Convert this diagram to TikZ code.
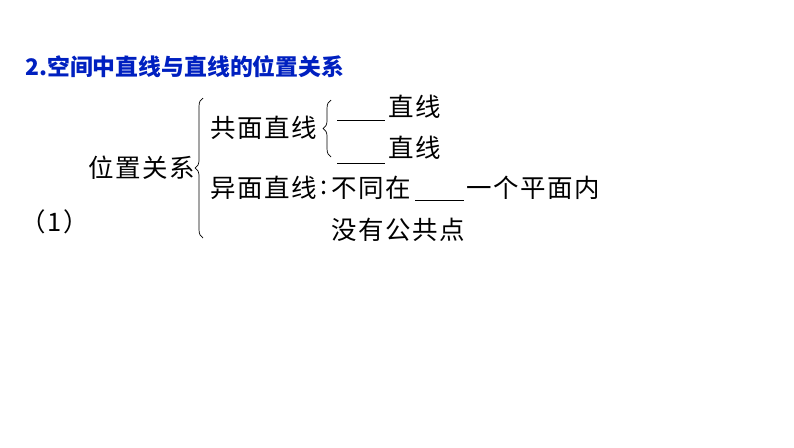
\documentclass[tikz,border=0pt]{standalone}
\usepackage{fontspec}
\setmainfont{Liberation Serif}
\newfontfamily\cjk[LetterSpace=6]{Noto Sans CJK SC}
\newfontfamily\cjktitle{Noto Sans CJK SC}
\usetikzlibrary{decorations.pathreplacing, positioning}
\definecolor{titleblue}{RGB}{0,32,192}
\tikzset{
    %Define style for the heading
    ttl/.style={
           inner sep=0pt,
           anchor=west,
           text=titleblue,
           font=\fontsize{13}{15}\selectfont\cjktitle\bfseries},
    %Define style for the chart text
    txt/.style={
           inner sep=0pt,
           anchor=west,
           font=\fontsize{14.5}{17}\selectfont\cjk},
    % Define brace style
    brc/.style={
           decorate,
           decoration={brace, amplitude=4.5pt},
           thin},
    % Define blank style
    blank/.style={
           thin}
}
\begin{document}
\begin{tikzpicture}[x=0.02cm, y=-0.02cm]

\useasboundingbox (0,0) rectangle (794,447);

\node[ttl] (title) at (25,67) {2.空间中直线与直线的位置关系};

\node[txt] (Pos) at (88,168) {位置关系};
\node[txt] (Num) at (20,222) {（1）};
\node[txt] (Cop) at (210,128) {共面直线};
\node[txt] (Ske) at (210,188) {异面直线};
\node[txt] (Col) at (320,188) {:};
\node[txt] (Nsa) at (331,188) {不同在};
\node[txt] (One) at (466,188) {一个平面内};
\node[txt] (Nco) at (331,230) {没有公共点};
\node[txt] (Ln1) at (388,107) {直线};
\node[txt] (Ln2) at (388,148) {直线};

\coordinate (BT) at (203,98);
\coordinate (BB) at (203,238);
\coordinate (ST) at (331,100);
\coordinate (SB) at (331,157);
\coordinate (U1a) at (337,120);
\coordinate (U1b) at (385,120);
\coordinate (U2a) at (337,163);
\coordinate (U2b) at (385,163);
\coordinate (U3a) at (415,200);
\coordinate (U3b) at (464,200);

\draw[brc] (BB) -- (BT);
\draw[brc] (SB) -- (ST);
\draw[blank] (U1a) -- (U1b);
\draw[blank] (U2a) -- (U2b);
\draw[blank] (U3a) -- (U3b);

\end{tikzpicture}
\end{document}
